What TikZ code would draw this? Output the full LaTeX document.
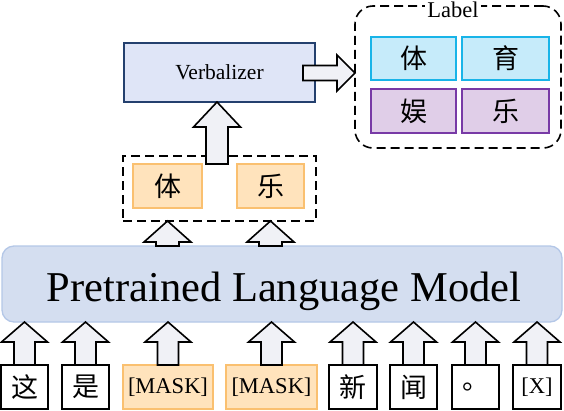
\documentclass[tikz,border=0pt]{standalone}
\usepackage{fontspec}
\setmainfont{Liberation Serif}
\newfontfamily\cjk{Noto Sans CJK SC}
\usetikzlibrary{calc}
\definecolor{arrfill}{RGB}{240,241,246}
\definecolor{maskfill}{RGB}{255,227,188}
\definecolor{maskdraw}{RGB}{250,192,112}
\definecolor{bluefill}{RGB}{198,235,250}
\definecolor{bluedraw}{RGB}{24,180,232}
\definecolor{purpfill}{RGB}{224,206,232}
\definecolor{purpdraw}{RGB}{120,58,166}
\definecolor{verbfill}{RGB}{223,229,247}
\definecolor{verbdraw}{RGB}{36,64,110}
\definecolor{plmfill}{RGB}{212,222,240}
\definecolor{plmdraw}{RGB}{180,199,231}
\newcommand\cjkbig{\fontsize{27}{30}\selectfont\cjk}
\newcommand\latbig{\fontsize{22.5}{26}\selectfont}
\newcommand\upblk[5]{%
  \path[blkarr] let \p1=#1, \p2=#2 in
    (\x1-#3,\y1) -- (\x1-#3,\y2-#5) -- (\x1-#4,\y2-#5) -- (\x1,\y2)
    -- (\x1+#4,\y2-#5) -- (\x1+#3,\y2-#5) -- (\x1+#3,\y1) -- cycle;}
\newcommand\rtblk[5]{%
  \path[blkarr] let \p1=#1, \p2=#2 in
    (\x1,\y2+#3) -- (\x2-#5,\y2+#3) -- (\x2-#5,\y2+#4) -- (\x2,\y2)
    -- (\x2-#5,\y2-#4) -- (\x2-#5,\y2-#3) -- (\x1,\y2-#3) -- cycle;}
\begin{document}
\begin{tikzpicture}[x=1pt,y=-1pt,
  blkarr/.style={draw=black,line width=1.6pt,fill=arrfill,line join=miter},
  tok/.style={draw=black,line width=1.3pt,fill=white,minimum width=47pt,minimum height=44pt,inner sep=0pt,outer sep=0pt,font=\cjkbig},
  masktok/.style={tok,draw=maskdraw,fill=maskfill,minimum width=90pt,font=\latbig},
  lbox/.style={line width=1.3pt,minimum height=43pt,inner sep=0pt,outer sep=0pt,font=\cjkbig},
  bluebox/.style={lbox,draw=bluedraw,fill=bluefill},
  purpbox/.style={lbox,draw=purpdraw,fill=purpfill},
  orbox/.style={lbox,draw=maskdraw,fill=maskfill,minimum height=44pt},
  dashbox/.style={draw=black,line width=1.6pt,dash pattern=on 9pt off 5pt,inner sep=0pt,outer sep=0pt}]
\useasboundingbox (0,0) rectangle (564,410);

% Label group
\node[dashbox,rounded corners=18pt,minimum width=206pt,minimum height=142pt] (labelbox) at (458,77) {};
\node[fill=white,inner xsep=2pt,inner ysep=0pt,anchor=base,font=\latbig] (labeltitle) at (453,17) {Label};
\node[bluebox,minimum width=85pt] (l1) at (413.5,58.5) {体};
\node[bluebox,minimum width=87pt] (l2) at (505.5,58.5) {育};
\node[purpbox,minimum width=85pt,minimum height=44pt] (l3) at (413.5,111) {娱};
\node[purpbox,minimum width=87pt,minimum height=44pt] (l4) at (505.5,111) {乐};

% Verbalizer
\node[draw=verbdraw,fill=verbfill,line width=1.3pt,minimum width=191pt,minimum height=59pt,inner sep=0pt,outer sep=0pt,font=\fontsize{21.5}{25}\selectfont] (verb) at (219.5,72.5) {Verbalizer};

% middle answer box
\node[dashbox,minimum width=193pt,minimum height=65pt] (ans) at (219.5,188.5) {};
\node[orbox,minimum width=69pt] (a1) at (167.5,186) {体};
\node[orbox,minimum width=67pt] (a2) at (270.5,186) {乐};

% PLM
\node[draw=plmdraw,fill=plmfill,line width=1.3pt,rounded corners=12pt,minimum width=560pt,minimum height=76pt,inner sep=0pt,outer sep=0pt] (plm) at (282,284) {};
\node[anchor=base,inner sep=0pt,font=\fontsize{42.5}{48}\selectfont] (plmtext) at (284,301) {Pretrained Language Model};

% tokens
\node[tok] (t1) at (24.5,387) {这};
\node[tok] (t2) at (85.5,387) {是};
\node[masktok] (t3) at (168,387) {[MASK]};
\node[masktok,minimum width=91pt] (t4) at (271.5,387) {[MASK]};
\node[tok,minimum width=48pt] (t5) at (353,387) {新};
\node[tok] (t6) at (413.5,387) {闻};
\node[tok] (t7) at (475.5,387) {。};
\node[tok,minimum width=48pt,font=\latbig] (t8) at (537,387) {[X]};

% arrows tokens -> PLM
\foreach \t in {t1,t2,t3,t4,t5,t6,t7,t8}{
  \upblk{(\t.north)}{(\t.north |- plm.south)}{10.5pt}{23pt}{20pt}
}
% arrows PLM -> answers
\upblk{(a1 |- plm.north)}{(a1 |- ans.south)}{11.5pt}{23.5pt}{21pt}
\upblk{(a2 |- plm.north)}{(a2 |- ans.south)}{11.5pt}{23.5pt}{21pt}
% arrow answers -> verbalizer
\coordinate (vb) at (217,164);
\upblk{(vb)}{(vb |- verb.south)}{11pt}{23.5pt}{25pt}
% arrow verbalizer -> label
\coordinate (vr) at (303,73);
\rtblk{(vr)}{(labelbox.west |- vr)}{7.5pt}{18pt}{18pt}
\end{tikzpicture}
\end{document}
